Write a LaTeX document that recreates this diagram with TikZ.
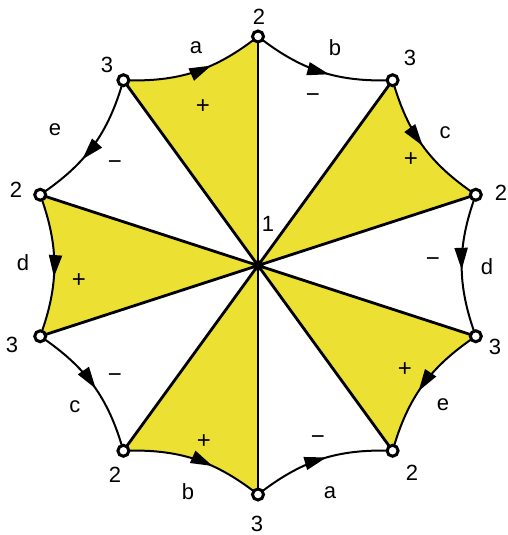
\documentclass[tikz,border=0pt]{standalone}
\usepackage{fontspec}
\setmainfont{Liberation Sans}
\usetikzlibrary{arrows.meta,decorations.markings}
\definecolor{yel}{RGB}{236,225,50}
\begin{document}
\begin{tikzpicture}[x=1pt,y=1pt,
  every node/.style={font=\fontsize{22}{24}\selectfont},
  spoke/.style={line width=2.8pt},
  edgeline/.style={line width=2pt},
  arr/.style={postaction={decorate},decoration={markings,
     mark=at position #1 with {\arrow{Triangle[length=22pt,width=13pt]}}}},
  vtx/.style={circle,draw,fill=white,line width=3pt,inner sep=0pt,minimum size=11pt},
  sign/.style={font=\fontsize{24}{26}\selectfont}]
\useasboundingbox (-258,-269.5) rectangle (250,265.5);
\coordinate (c0) at (0,0);
\foreach \i/\a in {1/90,2/54,3/18,4/-18,5/-54,6/-90,7/-126,8/-162,9/162,10/126}
  \coordinate (p\i) at (\a:229);
% yellow sectors
\fill[yel] (c0) -- (p10) to[bend right=20] (p1) -- cycle;
\fill[yel] (c0) -- (p2) to[bend right=20] (p3) -- cycle;
\fill[yel] (c0) -- (p4) to[bend right=20] (p5) -- cycle;
\fill[yel] (c0) -- (p7) to[bend left=20] (p6) -- cycle;
\fill[yel] (c0) -- (p9) to[bend left=20] (p8) -- cycle;
% spokes
\foreach \i in {1,...,10} \draw[spoke] (c0) -- (p\i);
% edges
\draw[edgeline,arr=0.62] (p10) to[bend right=20] (p1);
\draw[edgeline,arr=0.56] (p1) to[bend right=20] (p2);
\draw[edgeline,arr=0.5] (p2) to[bend right=20] (p3);
\draw[edgeline,arr=0.53] (p3) to[bend right=20] (p4);
\draw[edgeline,arr=0.55] (p4) to[bend right=20] (p5);
\draw[edgeline,arr=0.54] (p6) to[bend left=20] (p5);
\draw[edgeline,arr=0.63] (p7) to[bend left=20] (p6);
\draw[edgeline,arr=0.53] (p8) to[bend left=20] (p7);
\draw[edgeline,arr=0.58] (p9) to[bend left=20] (p8);
\draw[edgeline,arr=0.62] (p10) to[bend left=20] (p9);
% vertices
\foreach \i in {1,...,10} \node[vtx] (n\i) at (p\i) {};
\fill (c0) circle (5.5);
% vertex labels
\node (l1) at (1,248.5) {2};
\node (l10) at (-151,200.5) {3};
\node (l2) at (152,207.5) {3};
\node (l3) at (243,72.5) {2};
\node (l4) at (237,-81.5) {3};
\node (l5) at (154,-207.5) {2};
\node (l6) at (-1,-258.5) {3};
\node (l7) at (-143,-209.5) {2};
\node (l8) at (-246,-79.5) {3};
\node (l9) at (-242,75.5) {2};
\node (lc) at (10,41.5) {1};
% edge labels
\node (ea1) at (-62,217.5) {a};
\node (eb1) at (77,217.5) {b};
\node (ec1) at (187,132.5) {c};
\node (ed1) at (229,-1.5) {d};
\node (ee1) at (185,-139.5) {e};
\node (ea2) at (72,-227.5) {a};
\node (eb2) at (-70,-226.5) {b};
\node (ec2) at (-183,-141.5) {c};
\node (ed2) at (-235,2.5) {d};
\node (ee2) at (-203,135.5) {e};
% signs
\node[sign] (s1) at (-55,158.5) {+};
\node[sign] (s2) at (55,167.5) {−};
\node[sign] (s3) at (153,105.5) {+};
\node[sign] (s4) at (175,3.5) {−};
\node[sign] (s5) at (147,-104.5) {+};
\node[sign] (s6) at (60,-174.5) {−};
\node[sign] (s7) at (-54,-176.5) {+};
\node[sign] (s8) at (-143,-112.5) {−};
\node[sign] (s9) at (-179,-15.5) {+};
\node[sign] (s10) at (-143,100.5) {−};
\end{tikzpicture}
\end{document}
